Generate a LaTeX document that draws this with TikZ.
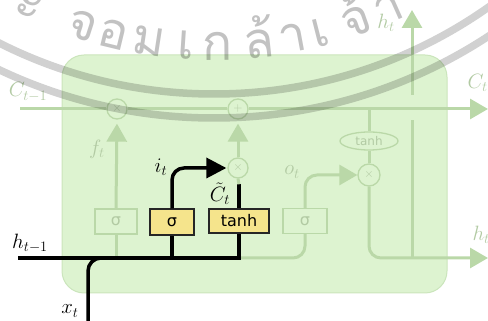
\documentclass[tikz,border=0pt]{standalone}
\usepackage{fontspec}
\newfontfamily\thaifont[Script=Thai]{Loma}
\newfontfamily\boxfont{DejaVu Sans}
\usetikzlibrary{arrows.meta,shapes.geometric}
\definecolor{cellgreen}{RGB}{221,243,208}
\definecolor{celledge}{RGB}{203,229,188}
\definecolor{fadec}{RGB}{186,216,168}
\definecolor{fadetext}{RGB}{178,202,163}
\definecolor{gateyellow}{RGB}{245,228,140}
\begin{document}
\begin{tikzpicture}[x=1pt,y=1pt,
  fl/.style={draw=fadec, line width=3pt},
  bl/.style={draw=black, line width=3.5pt},
  fhead/.style={-{Triangle[length=18pt,width=20pt]}},
  bhead/.style={-{Triangle[length=20pt,width=20pt]}},
  fgate/.style={draw=fadec, line width=1.3pt, fill=cellgreen, minimum width=42pt, minimum height=25pt, inner sep=0pt, text=fadetext, font=\boxfont\fontsize{16}{16}\selectfont},
  gate/.style={draw=black!85, fill=gateyellow, line width=1.4pt, inner sep=0pt, font=\boxfont\fontsize{16}{16}\selectfont},
  op/.style={circle, draw=fadec, line width=1.3pt, fill=cellgreen, minimum size=20pt, inner sep=0pt, text=fadetext, font=\fontsize{13}{13}\selectfont},
  lab/.style={font=\fontsize{21}{21}\selectfont},
  flab/.style={lab, text=fadetext},
  thai/.style={font=\thaifont\fontsize{50}{50}\selectfont, text=black, opacity=0.24, inner sep=0pt},
  wm/.style={draw=black, line width=7.5pt, opacity=0.18}
]
\useasboundingbox (0,0) rectangle (488,321);
\clip (0,0) rectangle (488,321);

% cell body
\node[draw=celledge, fill=cellgreen, line width=1pt, rounded corners=22pt,
      minimum width=385pt, minimum height=238pt, inner sep=0pt] (cell) at (254.5,147) {};

% gates and operators
\node[fgate] (s1) at (116,99.5) {σ};
\node[gate, minimum width=44pt, minimum height=26pt] (s2) at (172,99) {σ};
\node[gate, minimum width=60pt, minimum height=24pt] (th) at (239,100) {tanh};
\node[fgate, minimum width=44pt] (s3) at (305,100) {σ};
\node[op] (x1) at (117,212) {$\times$};
\node[op] (p1) at (238,212) {$+$};
\node[op] (x2) at (238,153) {$\times$};
\node[op, minimum size=22pt] (x3) at (369,146) {$\times$};
\node[ellipse, draw=fadec, line width=1.3pt, fill=cellgreen, minimum width=58pt, minimum height=18pt, inner sep=0pt,
      text=fadetext, font=\boxfont\fontsize{12}{12}\selectfont] (tl) at (369,180) {tanh};

\coordinate (cin) at (20,212);
\coordinate (cout) at (488,212);
\coordinate (hin) at (18,63);
\coordinate (hout) at (488,63);
\coordinate (xin) at (88,0);
\coordinate (hsplit) at (412,63);
\coordinate (hgap1) at (412,201);
\coordinate (hgap2) at (412,226);
\coordinate (htop) at (412,311);
\coordinate (wmc) at (214pt,704pt);

% cell state line
\draw[fl] (cin) -- (x1.west);
\draw[fl] (x1.east) -- (p1.west);
\draw[fl, fhead] (p1.east) -- (cout);

% forget gate (faded)
\draw[fl] (s1.south |- hin) -- (s1.south);
\draw[fl, fhead, shorten >=4pt] (s1.north) -- (x1.south);

% faded continuation of the h line and output gate
\draw[fl, rounded corners=12pt] (th.south |- hin) -- (s3.south |- hin) -- (s3.south);
\draw[fl, fhead, rounded corners=12pt] (s3.north) -- (s3.north |- x3) -- (x3.west);
\draw[fl] (tl.north |- cout) -- (tl.north);
\draw[fl] (tl.south) -- (x3.north);
\draw[fl, fhead, rounded corners=12pt] (x3.south) -- (x3.south |- hout) -- (hout);
\draw[fl] (hsplit) -- (hgap1);
\draw[fl, fhead] (hgap2) -- (htop);

% candidate path to the cell state (faded)
\draw[fl, fhead, shorten >=4pt] (x2.north) -- (p1.south);

% highlighted (black) paths
\draw[bl, rounded corners=13pt] (xin) -- (xin |- hin) -- (s2.south |- hin);
\draw[bl] (hin) -- (th.south |- hin) -- (th.south);
\draw[bl] (s2.south |- hin) -- (s2.south);
\draw[bl, bhead, rounded corners=12pt, shorten >=1pt] (s2.north) -- (s2.north |- x2) -- (x2.west);
\draw[bl] (th.north) -- ++(0,24) coordinate (thtop);
\draw[fl] (thtop) -- (x2.south);

% labels
\node[flab] (lc1) at (28,229) {$C_{t-1}$};
\node[flab, anchor=west] (lc2) at (464,238) {$C_t$};
\node[flab] (lf) at (97,172) {$f_t$};
\node[lab] (li) at (161,154) {$i_t$};
\node[lab] (lct) at (220,127) {$\tilde{C}_t$};
\node[flab] (lo) at (292,149) {$o_t$};
\node[flab] (lh1) at (386,298) {$h_t$};
\node[flab, anchor=west] (lh2) at (469,86) {$h_t$};
\node[lab] (lh0) at (30,78) {$h_{t-1}$};
\node[lab] (lx) at (70,10) {$x_t$};

% watermark
\draw[wm] (wmc) circle[radius=477pt];
\draw[wm] (wmc) circle[radius=501pt];
\foreach \ch/\ang in {ะ/244.5, จ/252.2, อ/256.4, ม/261.3, เ/266.2, ก/270.5, ล้/276.1, า/280.6, เ/284.3, จ้/289.4, า/294.0}
  \node[thai, rotate=\ang-270, anchor=base] at ([shift={(\ang:443pt)}]wmc) {\ch};
\end{tikzpicture}
\end{document}
